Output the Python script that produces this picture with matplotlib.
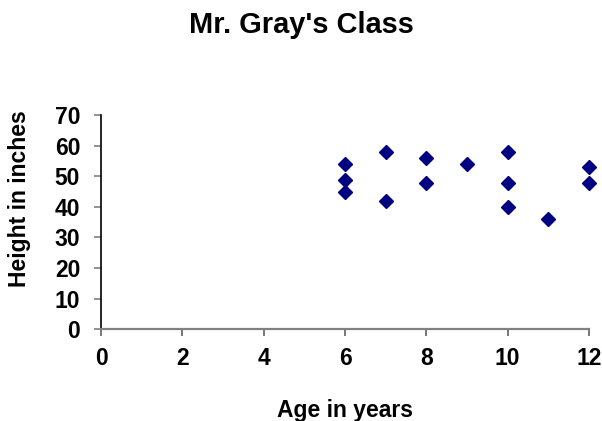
import matplotlib
matplotlib.use("Agg")
from matplotlib import pyplot as plt

# Mr. Gray's class: age vs height
ages = [6, 6, 6, 7, 7, 8, 8, 9, 10, 10, 10, 11, 12, 12]
heights = [54, 49, 45, 58, 42, 56, 48, 54, 58, 48, 40, 36, 53, 48]
x_ticks = [0, 2, 4, 6, 8, 10, 12]
y_ticks = [0, 10, 20, 30, 40, 50, 60, 70]

plt.rcParams["font.family"] = ["Liberation Sans", "DejaVu Sans"]
plt.rcParams["font.weight"] = "bold"

fig = plt.figure(figsize=(6.02, 4.21), dpi=100)
ax = fig.add_axes([0.1678, 0.2185, 0.8106, 0.5072])

ax.plot(ages, heights, linestyle="none", marker="D", markersize=7.5,
        color="#000080", clip_on=False)

ax.set_xlim(0, 12)
ax.set_ylim(0, 70)
ax.set_xticks(x_ticks)
ax.set_yticks(y_ticks)

for side in ["top", "right"]:
    ax.spines[side].set_visible(False)
ax.spines["left"].set_color("black")
ax.spines["left"].set_linewidth(1.2)
ax.spines["bottom"].set_color("#808080")
ax.spines["bottom"].set_linewidth(1.6)

ax.tick_params(axis="y", direction="out", length=5, width=1.2, color="#808080",
               pad=10, labelsize=16.5)
ax.tick_params(axis="x", direction="out", length=5, width=1.2, color="#606060",
               pad=8, labelsize=16.5)
for lbl in ax.get_xticklabels() + ax.get_yticklabels():
    lbl.set_fontweight("bold")

fig.text(0.5, 0.9216, "Mr. Gray's Class", ha="center", va="baseline",
         fontsize=20.9, fontweight="bold")
fig.text(345 / 602, 4 / 421, "Age in years", ha="center", va="baseline",
         fontsize=16.5, fontweight="bold")
fig.text(20 / 602, 222 / 421, "Height in inches", ha="center", va="center",
         rotation=90, fontsize=16.5, fontweight="bold")

fig.savefig("out.png", dpi=100)
